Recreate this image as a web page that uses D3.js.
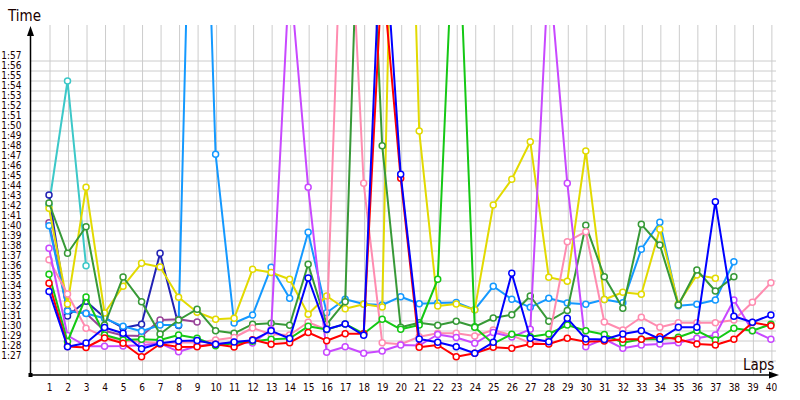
<!DOCTYPE html>
<html>
<head>
<meta charset="utf-8">
<script src="https://cdn.jsdelivr.net/npm/d3@7"></script>
<style>
  body { margin: 0; background: #fff; }
  svg { display: block; }
  text { font-family: Tahoma, "DejaVu Sans Condensed", "DejaVu Sans", sans-serif; fill: #1a0000; }
</style>
</head>
<body>
<div id="chart"></div>
<script>
// lap numbers (x categories)
const laps = [1, 2, 3, 4, 5, 6, 7, 8, 9, 10, 11, 12, 13, 14, 15, 16, 17, 18, 19, 20,
  21, 22, 23, 24, 25, 26, 27, 28, 29, 30, 31, 32, 33, 34, 35, 36, 37, 38, 39, 40];

// y tick values, in seconds (1:27 .. 1:57)
const timeTicks = [87, 88, 89, 90, 91, 92, 93, 94, 95, 96, 97, 98, 99, 100, 101, 102,
  103, 104, 105, 106, 107, 108, 109, 110, 111, 112, 113, 114, 115, 116, 117];

// lap times in seconds, one array per driver
const red = [94.67, 88.35, 88.25, 89.2, 88.67, 87.33, 88.6, 88.3, 88.33, 88.57,
  88.3, 89.03, 88.57, 88.73, 89.75, 88.93, 89.63, 89.63, 126, 105.17,
  88.27, 88.5, 87.33, 87.67, 88.27, 88.17, 88.6, 88.6, 89.17, 88.83,
  88.9, 89.07, 89.07, 89.33, 89.07, 88.6, 88.5, 89.07, 90.75, 90.43];
const blue = [93.85, 88.33, 88.7, 90.25, 89.67, 88.12, 88.67, 88.9, 88.95, 88.57,
  88.8, 88.98, 89.92, 89.15, 95.2, 90.07, 90.6, 89.47, 133.2, 105.57,
  89.1, 88.77, 88.33, 87.67, 88.77, 95.67, 89.17, 88.83, 91.17, 89.1,
  89.05, 89.6, 89.93, 89.1, 90.27, 90.27, 102.83, 91.37, 90.78, 91.5];
const green = [95.58, 88.85, 93.3, 89.5, 89, 89.07, 89, 89.5, 89.17, 88.43,
  88.67, 88.87, 89.07, 89.15, 90.37, 90.04, 90.6, 89.63, 91.08, 90.07,
  90.5, 95.07, 136.8, 90.27, 88.63, 89.58, 89.33, 89.6, 90.5, 89.93,
  89.55, 88.73, 89.07, 89.07, 89.27, 89.93, 89, 90.17, 89.93, 90.57];
const darkGreen = [102.7, 97.67, 100.33, 90.5, 95.3, 92.83, 89.6, 91, 92.08, 89.92,
  89.67, 90.58, 90.67, 90.47, 96.58, 90.57, 92.83, 149.8, 108.43, 90.27,
  90.73, 90.48, 90.88, 90.32, 91.2, 91.53, 93.4, 90.88, 91.95, 100.47,
  95.33, 92.17, 100.57, 98.5, 92.5, 96, 93.9, 95.33];
const yellow = [102.17, 92.6, 104.27, 91.7, 94.37, 96.67, 96.3, 93.27, 91.78, 91.07,
  91.17, 96.07, 95.75, 95.07, 91.58, 93.4, 92.12, 92.58, 92.3, 173,
  109.9, 92.4, 92.6, 92.03, 102.5, 105.07, 108.83, 95.27, 94.88, 107.9,
  93.05, 93.77, 93.57, 100.07, 92.6, 95.5, 95.17];
const lightBlue = [100.43, 91.9, 91.65, 91.17, 90.37, 89.88, 90.5, 90.5, 165, 107.57,
  90.7, 91.5, 96.27, 93.17, 99.77, 91.73, 93.07, 92.6, 92.5, 93.33,
  92.62, 92.7, 92.75, 92.03, 94.37, 93.07, 92.27, 93.17, 92.7, 92.58,
  93.05, 92.73, 98.07, 100.77, 92.43, 92.57, 93, 96.83];
const magenta = [98.17, 89.45, 88.38, 88.38, 88.4, 88.47, 88.67, 87.83, 88.4, 88.57,
  88.78, 88.7, 90.03, 125.9, 104.27, 87.77, 88.33, 87.67, 87.9, 88.5,
  88.45, 89.55, 89.25, 88.67, 89.75, 89.3, 90.07, 126.5, 104.67, 88.33,
  89.1, 88.17, 88.5, 88.6, 88.73, 89.17, 89.5, 93, 89.93, 89.07];
const pink = [97.03, 93.6, 90.17, 89.33, 88.9, 88.83, 88.7, 88.75, 88.75, 89,
  89.25, 90.2, 89.58, 89.5, 90.78, 90.03, 142.3, 104.67, 88.73, 88.57,
  89.32, 89.67, 89.67, 89.4, 90, 89.47, 88.7, 89, 98.83, 99.83,
  90.8, 90, 91.27, 90.27, 90.73, 90.73, 90.73, 91, 92.77, 94.73];
const cyan = [102.5, 114.9, 96.43];
const navy = [103.5, 91.4, 92.88, 91.25, 90.2, 90.57, 97.67, 90.45];
const purple = [100.73, 91.97, 91.67, 89.92, 89.45, 89.4, 91, 91.07, 90.8];

const series = [
  { name: 'cyan', color: '#3cc8c8', values: cyan },
  { name: 'navy', color: '#2222b4', values: navy },
  { name: 'purple', color: '#994499', values: purple },
  { name: 'lightBlue', color: '#1499ff', values: lightBlue },
  { name: 'yellow', color: '#e2da00', values: yellow },
  { name: 'darkGreen', color: '#379937', values: darkGreen },
  { name: 'pink', color: '#ff8cb0', values: pink },
  { name: 'magenta', color: '#c848ff', values: magenta },
  { name: 'green', color: '#14c814', values: green },
  { name: 'red', color: '#ff0000', values: red },
  { name: 'blue', color: '#0000ff', values: blue }
];

const width = 800, height = 400;
const plotLeft = 30.5, plotTop = 25, plotBottom = 375;

const svg = d3.select('#chart').append('svg')
  .attr('width', width)
  .attr('height', height);

const x = d3.scaleLinear().domain([0, 41]).range([plotLeft, 789.4]);
const y = d3.scaleLinear().domain([85.5, 120.5]).range([plotBottom, plotTop]);

const fmt = s => '1:' + String(s - 60).padStart(2, '0');

// horizontal grid + y labels
const yAxis = svg.append('g')
  .attr('transform', 'translate(' + plotLeft + ',0)')
  .call(d3.axisLeft(y).tickValues(timeTicks).tickFormat(fmt)
    .tickSizeInner(-(776 - plotLeft)).tickSizeOuter(0).tickPadding(9));
yAxis.select('.domain').remove();
yAxis.selectAll('line').attr('stroke', '#cccccc').attr('stroke-width', 1)
  .attr('transform', 'translate(0,0.5)');
yAxis.selectAll('text').attr('dy', 0).attr('y', -1.5)
  .style('font-size', '10px').attr('fill', '#1a0000');

// vertical grid + lap labels
const xAxis = svg.append('g')
  .attr('transform', 'translate(0,' + plotBottom + ')')
  .call(d3.axisBottom(x).tickValues(laps).tickFormat(d3.format('d'))
    .tickSizeInner(-(plotBottom - plotTop)).tickSizeOuter(0).tickPadding(9));
xAxis.select('.domain').remove();
xAxis.selectAll('line').attr('stroke', '#cccccc').attr('stroke-width', 1)
  .attr('transform', 'translate(0.5,0)');
xAxis.selectAll('text').style('font-size', '10px').attr('fill', '#1a0000');

// clip the lines to the plot area
svg.append('clipPath').attr('id', 'plot')
  .append('rect').attr('x', plotLeft).attr('y', plotTop)
  .attr('width', 790 - plotLeft).attr('height', plotBottom - plotTop);

const line = d3.line()
  .x((d, i) => x(laps[i]))
  .y(d => y(d));

const plot = svg.append('g').attr('clip-path', 'url(#plot)');

series.forEach(s => {
  const g = plot.append('g').attr('class', 'series ' + s.name);
  g.append('path')
    .datum(s.values)
    .attr('fill', 'none')
    .attr('stroke', s.color)
    .attr('stroke-width', 2)
    .attr('stroke-linejoin', 'round')
    .attr('d', line);
  g.selectAll('circle')
    .data(s.values)
    .enter()
    .append('circle')
    .attr('cx', (d, i) => x(laps[i]))
    .attr('cy', d => y(d))
    .attr('r', 3)
    .attr('fill', '#fff')
    .attr('stroke', s.color)
    .attr('stroke-width', 1.5);
});

// axes with arrows
svg.append('line')
  .attr('x1', plotLeft).attr('x2', plotLeft)
  .attr('y1', 33).attr('y2', plotBottom)
  .attr('stroke', '#000').attr('stroke-width', 1.5);
svg.append('path')
  .attr('d', 'M' + plotLeft + ',26 L' + (plotLeft - 3.5) + ',36 L' + (plotLeft + 3.5) + ',36 Z')
  .attr('fill', '#000');

svg.append('line')
  .attr('x1', plotLeft).attr('x2', 771)
  .attr('y1', plotBottom).attr('y2', plotBottom)
  .attr('stroke', '#000').attr('stroke-width', 1.5);
svg.append('path')
  .attr('d', 'M779,' + plotBottom + ' L769,' + (plotBottom - 3.5) + ' L769,' + (plotBottom + 3.5) + ' Z')
  .attr('fill', '#000');

svg.append('rect')
  .attr('x', plotLeft - 2).attr('y', plotBottom - 2)
  .attr('width', 4).attr('height', 4)
  .attr('fill', '#000');

// axis titles
svg.append('text')
  .attr('x', 8).attr('y', 21)
  .style('font-size', '15px')
  .text('Time');

svg.append('text')
  .attr('x', 743).attr('y', 370)
  .style('font-size', '15px')
  .text('Laps');
</script>
</body>
</html>
